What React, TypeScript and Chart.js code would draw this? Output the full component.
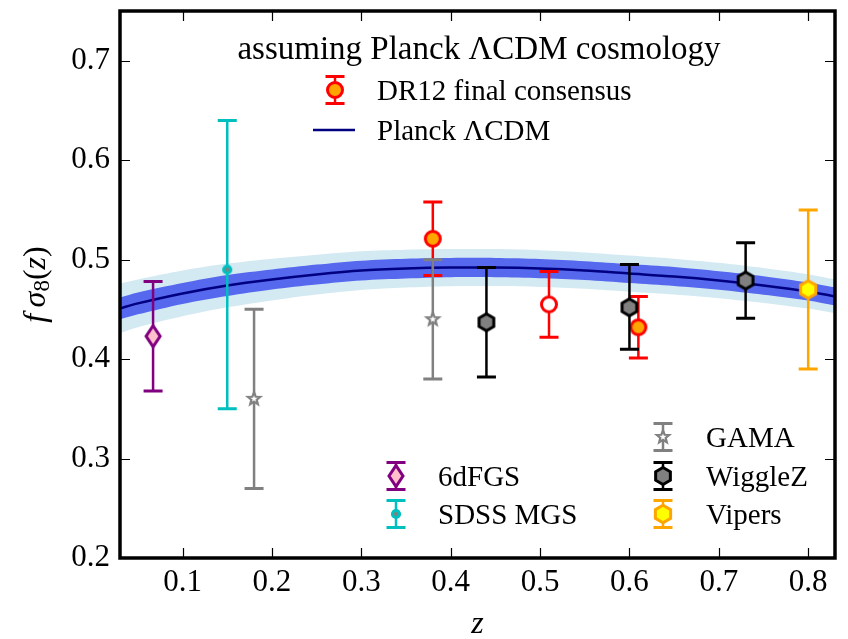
import React, { useEffect, useRef } from 'react';
import { Chart, registerables } from 'chart.js';
Chart.register(...registerables);

const FONT = '"Liberation Serif", "Times New Roman", serif';

// ---------- axis ticks ----------
const xTicks = [0.1, 0.2, 0.3, 0.4, 0.5, 0.6, 0.7, 0.8];
const yTicks = [0.2, 0.3, 0.4, 0.5, 0.6, 0.7];

// ---------- Planck LCDM prediction ----------
const planckZ = [0.03, 0.05, 0.1, 0.15, 0.2, 0.25, 0.3, 0.35, 0.4, 0.45, 0.5, 0.55, 0.6, 0.65, 0.7, 0.75, 0.8, 0.83];
const planckF = [0.451, 0.456, 0.466, 0.474, 0.48, 0.485, 0.489, 0.491, 0.492, 0.492, 0.491, 0.489, 0.486, 0.483, 0.479, 0.474, 0.468, 0.463];
const planckSig1 = [0.011, 0.011, 0.0105, 0.0105, 0.01, 0.01, 0.01, 0.01, 0.0097, 0.0097, 0.0097, 0.0095, 0.0095, 0.0095, 0.0093, 0.0093, 0.009, 0.009];
const planckSig2 = [0.025, 0.024, 0.023, 0.022, 0.021, 0.02, 0.0195, 0.019, 0.0187, 0.0186, 0.0185, 0.0183, 0.0182, 0.018, 0.0178, 0.0175, 0.0172, 0.017];

// ---------- measurements ----------
const dr12Z = [0.38, 0.51, 0.61];
const dr12F = [0.521, 0.455, 0.432];
const dr12Lo = [0.037, 0.033, 0.031];
const dr12Hi = [0.037, 0.033, 0.031];

const sixdfZ = [0.067];
const sixdfF = [0.423];
const sixdfLo = [0.055];
const sixdfHi = [0.055];

const sdssZ = [0.15];
const sdssF = [0.49];
const sdssLo = [0.14];
const sdssHi = [0.15];

const gamaZ = [0.18, 0.38];
const gamaF = [0.36, 0.44];
const gamaLo = [0.09, 0.06];
const gamaHi = [0.09, 0.06];

const wigZ = [0.44, 0.6, 0.73];
const wigF = [0.437, 0.452, 0.479];
const wigLo = [0.055, 0.042, 0.038];
const wigHi = [0.055, 0.043, 0.038];

const vipZ = [0.8];
const vipF = [0.47];
const vipLo = [0.08];
const vipHi = [0.08];

const legendTitle = 'assuming Planck \u039BCDM cosmology';
const legendDR12 = 'DR12 final consensus';
const legendPlanck = 'Planck \u039BCDM';

function mk(size: number, draw: (g: CanvasRenderingContext2D) => void) {
  const c = document.createElement('canvas');
  c.width = size;
  c.height = size;
  const g = c.getContext('2d')!;
  g.translate(size / 2, size / 2);
  draw(g);
  return c;
}

function hexPath(g: CanvasRenderingContext2D, R: number) {
  g.beginPath();
  for (let k = 0; k < 6; k++) {
    const a = -Math.PI / 2 + (k * Math.PI) / 3;
    const px = R * Math.cos(a), py = R * Math.sin(a);
    if (k === 0) g.moveTo(px, py); else g.lineTo(px, py);
  }
  g.closePath();
}

function pts(zs: number[], fs: number[]) {
  return zs.map((z, i) => ({ x: z, y: fs[i] }));
}

export default function App() {
  const ref = useRef<HTMLCanvasElement | null>(null);

  useEffect(() => {
    document.body.style.margin = '0';
    const canvas = ref.current!;

    const mDR12 = mk(22, (g) => { g.beginPath(); g.arc(0, 0, 7.5, 0, Math.PI * 2); g.fillStyle = '#ffa500'; g.fill(); g.lineWidth = 3; g.strokeStyle = '#ff0000'; g.stroke(); });
    const mDR12o = mk(22, (g) => { g.beginPath(); g.arc(0, 0, 7.5, 0, Math.PI * 2); g.fillStyle = '#ffffff'; g.fill(); g.lineWidth = 3; g.strokeStyle = '#ff0000'; g.stroke(); });
    const m6df = mk(30, (g) => { g.beginPath(); g.moveTo(0, -10.5); g.lineTo(7, 0); g.lineTo(0, 10.5); g.lineTo(-7, 0); g.closePath(); g.fillStyle = '#ffc0cb'; g.fill(); g.lineWidth = 3; g.strokeStyle = '#800080'; g.stroke(); });
    const mSdss = mk(16, (g) => { g.beginPath(); g.arc(0, 0, 3.6, 0, Math.PI * 2); g.fillStyle = '#808080'; g.fill(); g.lineWidth = 3; g.strokeStyle = '#00bfbf'; g.stroke(); });
    const mGama = mk(20, (g) => {
      g.beginPath();
      for (let k = 0; k < 10; k++) {
        const r = k % 2 === 0 ? 6.5 : 2.8;
        const a = -Math.PI / 2 + (k * Math.PI) / 5;
        const px = r * Math.cos(a), py = r * Math.sin(a);
        if (k === 0) g.moveTo(px, py); else g.lineTo(px, py);
      }
      g.closePath(); g.fillStyle = '#ffffff'; g.fill(); g.lineWidth = 2.2; g.strokeStyle = '#808080'; g.stroke();
    });
    const mWig = mk(26, (g) => { hexPath(g, 8.5); g.fillStyle = '#808080'; g.fill(); g.lineWidth = 3; g.strokeStyle = '#000000'; g.stroke(); });
    const mVip = mk(26, (g) => { hexPath(g, 8.8); g.fillStyle = '#ffff00'; g.fill(); g.lineWidth = 3; g.strokeStyle = '#ffa500'; g.stroke(); });

    const bandPts = (sign: number, sig: number[]) => planckZ.map((z, i) => ({ x: z, y: planckF[i] + sign * sig[i] }));

    const lineBase = { type: 'line', pointRadius: 0, borderWidth: 0, borderColor: 'transparent', tension: 0.3 } as any;

    const errDs = (label: string, zs: number[], fs: number[], lo: number[], hi: number[], color: string, style: any) => ({
      type: 'scatter', label, data: pts(zs, fs), errLow: lo, errHigh: hi, errColor: color,
      pointStyle: style, pointRadius: 10, order: 1,
    } as any);

    const errorBarPlugin = {
      id: 'errbars',
      beforeDatasetDraw(chart: any, args: any) {
        const ds = chart.data.datasets[args.index];
        if (!ds.errLow) return;
        const ctx = chart.ctx, xs = chart.scales.x, ys = chart.scales.y;
        ctx.save();
        ctx.strokeStyle = ds.errColor;
        ds.data.forEach((p: any, i: number) => {
          const px = xs.getPixelForValue(p.x);
          const top = ys.getPixelForValue(p.y + ds.errHigh[i]);
          const bot = ys.getPixelForValue(p.y - ds.errLow[i]);
          ctx.lineWidth = 2.5;
          ctx.beginPath(); ctx.moveTo(px, top); ctx.lineTo(px, bot); ctx.stroke();
          ctx.lineWidth = 3;
          ctx.beginPath();
          ctx.moveTo(px - 9.5, top); ctx.lineTo(px + 9.5, top);
          ctx.moveTo(px - 9.5, bot); ctx.lineTo(px + 9.5, bot);
          ctx.stroke();
        });
        ctx.restore();
      },
    };

    const legendIcon = (ctx: CanvasRenderingContext2D, x: number, y: number, color: string, marker: HTMLCanvasElement) => {
      ctx.save();
      ctx.strokeStyle = color;
      ctx.lineWidth = 2.5;
      ctx.beginPath(); ctx.moveTo(x, y - 13.5); ctx.lineTo(x, y + 13.5); ctx.stroke();
      ctx.lineWidth = 3;
      ctx.beginPath();
      ctx.moveTo(x - 9.5, y - 13.5); ctx.lineTo(x + 9.5, y - 13.5);
      ctx.moveTo(x - 9.5, y + 13.5); ctx.lineTo(x + 9.5, y + 13.5);
      ctx.stroke();
      ctx.drawImage(marker, x - marker.width / 2, y - marker.height / 2);
      ctx.restore();
    };

    const decorPlugin = {
      id: 'decor',
      afterDraw(chart: any) {
        const ctx = chart.ctx as CanvasRenderingContext2D;
        const a = chart.chartArea;
        const xs = chart.scales.x, ys = chart.scales.y;
        ctx.save();
        // inward ticks
        ctx.strokeStyle = '#000';
        ctx.lineWidth = 1.2;
        ctx.beginPath();
        xTicks.forEach((v) => {
          const px = Math.round(xs.getPixelForValue(v)) + 0.5;
          ctx.moveTo(px, a.bottom); ctx.lineTo(px, a.bottom - 10);
          ctx.moveTo(px, a.top); ctx.lineTo(px, a.top + 10);
        });
        yTicks.forEach((v) => {
          const py = Math.round(ys.getPixelForValue(v)) + 0.5;
          ctx.moveTo(a.left, py); ctx.lineTo(a.left + 10, py);
          ctx.moveTo(a.right, py); ctx.lineTo(a.right - 10, py);
        });
        ctx.stroke();
        // frame
        ctx.lineWidth = 3.5;
        ctx.strokeRect(a.left, a.top, a.right - a.left, a.bottom - a.top);

        // legends
        ctx.fillStyle = '#000';
        ctx.textBaseline = 'alphabetic';
        ctx.textAlign = 'center';
        ctx.font = `33px ${FONT}`;
        ctx.fillText(legendTitle, 479, 59);
        ctx.textAlign = 'left';
        ctx.font = `29px ${FONT}`;
        legendIcon(ctx, 335, 90, '#ff0000', mDR12);
        ctx.fillText(legendDR12, 377, 99.5);
        ctx.strokeStyle = '#000080'; ctx.lineWidth = 2.5;
        ctx.beginPath(); ctx.moveTo(313, 130); ctx.lineTo(355, 130); ctx.stroke();
        ctx.fillText(legendPlanck, 377, 139.5);

        const legs: [number, number, string, HTMLCanvasElement, string, number][] = [
          [396, 476, '#800080', m6df, '6dFGS', 438],
          [396, 514, '#00bfbf', mSdss, 'SDSS MGS', 438],
          [663, 437, '#808080', mGama, 'GAMA', 706],
          [663, 476, '#000000', mWig, 'WiggleZ', 706],
          [663, 514, '#ffa500', mVip, 'Vipers', 706],
        ];
        legs.forEach(([x, y, c, m, t, tx]) => {
          legendIcon(ctx, x, y, c, m);
          ctx.fillStyle = '#000';
          ctx.fillText(t, tx, y + 9.5);
        });

        // axis titles
        ctx.font = `italic 32px ${FONT}`;
        ctx.textAlign = 'center';
        ctx.fillText('z', (a.left + a.right) / 2, 633);

        // y label: f sigma_8 (z)
        const cy = (a.top + a.bottom) / 2;
        ctx.translate(45, cy);
        ctx.rotate(-Math.PI / 2);
        const parts: [string, string, number][] = [
          ['f', `italic 32px ${FONT}`, 0],
          ['\u2009', `32px ${FONT}`, 0],
          ['\u03C3', `italic 32px ${FONT}`, 0],
          ['8', `23px ${FONT}`, 4],
          ['(', `32px ${FONT}`, 0],
          ['z', `italic 32px ${FONT}`, 0],
          [')', `32px ${FONT}`, 0],
        ];
        let total = 0;
        const widths = parts.map(([t, f]) => { ctx.font = f; const w = ctx.measureText(t).width; total += w; return w; });
        let cx = -total / 2;
        ctx.textAlign = 'left';
        parts.forEach(([t, f, dy], i) => {
          ctx.font = f;
          ctx.fillText(t, cx, dy);
          cx += widths[i];
        });
        ctx.restore();
      },
    };

    const chart = new Chart(canvas, {
      data: {
        datasets: [
          { ...lineBase, label: 'sig2up', data: bandPts(1, planckSig2), fill: false, order: 12 },
          { ...lineBase, label: 'sig2lo', data: bandPts(-1, planckSig2), fill: '-1', backgroundColor: '#d4eaf2', order: 11 },
          { ...lineBase, label: 'sig1up', data: bandPts(1, planckSig1), fill: false, order: 10 },
          { ...lineBase, label: 'sig1lo', data: bandPts(-1, planckSig1), fill: '-1', backgroundColor: '#5668ee', order: 9 },
          { ...lineBase, label: 'Planck', data: pts(planckZ, planckF), fill: false, borderColor: '#000080', borderWidth: 2.5, order: 8 },
          errDs('6dFGS', sixdfZ, sixdfF, sixdfLo, sixdfHi, '#800080', m6df),
          errDs('SDSS MGS', sdssZ, sdssF, sdssLo, sdssHi, '#00bfbf', mSdss),
          errDs('GAMA', gamaZ, gamaF, gamaLo, gamaHi, '#808080', mGama),
          errDs('WiggleZ', wigZ, wigF, wigLo, wigHi, '#000000', mWig),
          errDs('Vipers', vipZ, vipF, vipLo, vipHi, '#ffa500', mVip),
          errDs('DR12', dr12Z, dr12F, dr12Lo, dr12Hi, '#ff0000', [mDR12, mDR12o, mDR12]),
        ] as any,
      },
      options: {
        responsive: false,
        animation: false,
        events: [],
        layout: { padding: { top: 6, right: 13, left: 0, bottom: 0 } },
        plugins: { legend: { display: false }, tooltip: { enabled: false } },
        scales: {
          x: {
            type: 'linear', min: 0.03, max: 0.83,
            grid: { display: false, drawTicks: false },
            border: { display: false },
            afterBuildTicks: (s: any) => { s.ticks = xTicks.map((v) => ({ value: v })); },
            afterFit: (s: any) => { s.height = 81; s.paddingLeft = 0; s.paddingRight = 0; s.paddingTop = 0; s.paddingBottom = 0; },
            ticks: { autoSkip: false, maxRotation: 0, padding: 6, color: '#000', font: { family: FONT, size: 31 }, callback: (v: any) => Number(v).toFixed(1) },
          },
          y: {
            type: 'linear', min: 0.2, max: 0.75,
            grid: { display: false, drawTicks: false },
            border: { display: false },
            afterBuildTicks: (s: any) => { s.ticks = yTicks.map((v) => ({ value: v })); },
            afterFit: (s: any) => { s.width = 120; s.paddingLeft = 0; s.paddingRight = 0; s.paddingTop = 0; s.paddingBottom = 0; },
            ticks: { autoSkip: false, padding: 10, color: '#000', font: { family: FONT, size: 31 }, callback: (v: any) => Number(v).toFixed(1) },
          },
        },
      } as any,
      plugins: [errorBarPlugin, decorPlugin],
    });
    return () => chart.destroy();
  }, []);

  return (
    <div style={{ width: 848, height: 639 }}>
      <canvas ref={ref} width={848} height={639} style={{ display: 'block' }} />
    </div>
  );
}
